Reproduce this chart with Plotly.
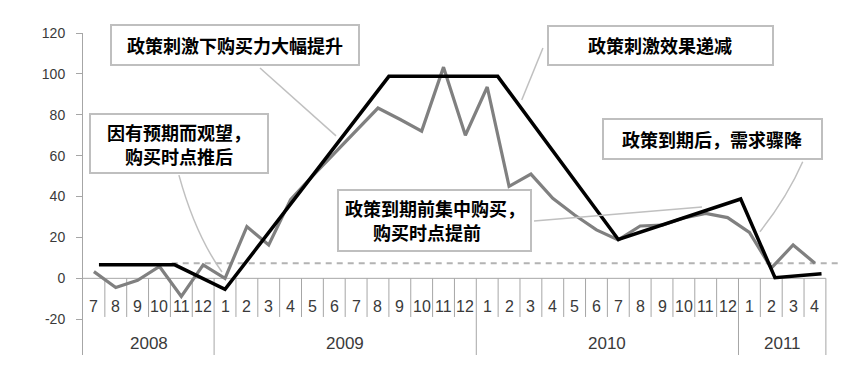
import plotly.graph_objects as go

# ---------------- data ----------------
month_labels = ["7", "8", "9", "10", "11", "12",
                "1", "2", "3", "4", "5", "6", "7", "8", "9", "10", "11", "12",
                "1", "2", "3", "4", "5", "6", "7", "8", "9", "10", "11", "12",
                "1", "2", "3", "4"]
year_labels = ["2008", "2009", "2010", "2011"]
months_per_year = [6, 12, 12, 4]

# grey series (monthly values)
grey_values = [3.3, -4.5, -1.0, 5.8, -8.9, 6.6,
               0.0, 25.3, 16.3, 38.5, 50.0, 61.0, 72.5, 83.3, 77.8, 72.0, 103.3, 70.0,
               93.6, 45.0, 51.0, 39.1, 31.0, 23.7, 18.8, 25.6, 26.0, 29.5, 31.8, 29.7,
               22.5, 5.0, 16.3, 7.4]

# black schematic trend line (position in month slots, value)
trend_pos = [0.73, 4.2, 6.5, 14.0, 18.98, 24.5, 30.1, 31.67, 33.8]
trend_val = [6.6, 6.6, -5.4, 98.8, 98.8, 19.0, 38.8, 0.3, 2.2]

# dashed reference level
ref_level = 7.4
ref_start = 4.06
ref_end = 34.55

y_ticks = [-20, 0, 20, 40, 60, 80, 100, 120]
y_tick_labels = ["-20", "0", "20", "40", "60", "80", "100", "120"]

notes = [["政策刺激下购买力大幅提升"],
         ["政策刺激效果递减"],
         ["因有预期而观望，", "购买时点推后"],
         ["政策到期前集中购买，", "购买时点提前"],
         ["政策到期后，需求骤降"]]

# ---------------- figure ----------------
n = len(month_labels)
centers = [i + 0.5 for i in range(n)]
AX = "#a6a6a6"

fig = go.Figure()
fig.add_trace(go.Scatter(x=centers, y=grey_values, mode="lines",
                         line=dict(color="#808080", width=3.2), hoverinfo="skip"))
fig.add_trace(go.Scatter(x=trend_pos, y=trend_val, mode="lines",
                         line=dict(color="#000000", width=3.5), hoverinfo="skip"))

shapes = []
# horizontal category axis at 0
shapes.append(dict(type="line", xref="x", yref="y", x0=0, x1=n, y0=0, y1=0,
                   line=dict(color=AX, width=1), layer="below"))
# separators
bounds = []
acc = 0
for c in months_per_year:
    acc += c
    bounds.append(acc)
for i in range(1, n + 1):
    y1 = -37.5 if i in bounds else -18.9
    shapes.append(dict(type="line", xref="x", yref="y", x0=i, x1=i, y0=0, y1=y1,
                       line=dict(color=AX, width=1), layer="below"))
# dashed reference line
shapes.append(dict(type="line", xref="x", yref="y", x0=ref_start, x1=ref_end,
                   y0=ref_level, y1=ref_level,
                   line=dict(color="#b3b3b3", width=2, dash="6px,5px"), layer="below"))
# leader lines
LC = "#c0c0c0"
shapes.append(dict(type="line", xref="x", yref="y", x0=8.10, y0=102.9, x1=11.58, y1=69.7,
                   line=dict(color=LC, width=1.5)))
shapes.append(dict(type="line", xref="x", yref="y", x0=21.05, y0=112.7, x1=20.08, y1=87.2,
                   line=dict(color=LC, width=1.5)))
shapes.append(dict(type="path", xref="x", yref="y",
                   path="M 4.39,50.5 Q 5.14,21.4 6.36,3.1",
                   line=dict(color=LC, width=1.5)))
shapes.append(dict(type="line", xref="x", yref="y", x0=20.64, y0=28.0, x1=28.33, y1=34.9,
                   line=dict(color=LC, width=1.5)))
shapes.append(dict(type="path", xref="x", yref="y",
                   path="M 32.94,57.0 Q 32.21,39.3 30.98,22.8",
                   line=dict(color=LC, width=1.5)))

annotations = []
tick_font = dict(family="Liberation Sans, Arial, sans-serif", size=16, color="#3a3a3a")
for c, lab in zip(centers, month_labels):
    annotations.append(dict(x=c, y=-13.6, xref="x", yref="y", text=lab, showarrow=False,
                            font=tick_font))
start = 0
for lab, c in zip(year_labels, months_per_year):
    annotations.append(dict(x=start + c / 2, y=-31.7, xref="x", yref="y", text=lab,
                            showarrow=False,
                            font=dict(family="Liberation Sans, Arial, sans-serif", size=17,
                                      color="#3a3a3a")))
    start += c

# note boxes: (center x, center y, width px, height px, second-line x shift px)
box_geo = [(6.96, 114.1, 250, 42, 0),
           (26.43, 113.9, 227, 41, 0),
           (4.39, 65.9, 180, 61, 0),
           (16.09, 28.3, 195, 63, -8),
           (28.81, 68.2, 221, 42, 0)]
note_font = dict(family="Noto Sans CJK SC", size=18, color="#000000", weight="bold")
for lines, (bx, by, w, h, dx2) in zip(notes, box_geo):
    # the box itself
    annotations.append(dict(x=bx, y=by, xref="x", yref="y", text=" ", showarrow=False,
                            width=w - 4, height=h - 4, borderpad=0, borderwidth=2,
                            bordercolor="#bfbfbf", bgcolor="white",
                            font=dict(size=4)))
    if len(lines) == 1:
        annotations.append(dict(x=bx, y=by, xref="x", yref="y", text=lines[0],
                                showarrow=False, font=note_font))
    else:
        annotations.append(dict(x=bx, y=by, xref="x", yref="y", text=lines[0],
                                showarrow=False, yshift=12, font=note_font))
        annotations.append(dict(x=bx, y=by, xref="x", yref="y", text=lines[1],
                                showarrow=False, yshift=-12, xshift=dx2, font=note_font))

# page body has an 8px margin: shrink figure so it fits the 866x365 window
fig.update_layout(
    width=858, height=357,
    margin=dict(l=75, r=27, t=25, b=10),
    paper_bgcolor="white", plot_bgcolor="white",
    showlegend=False,
    xaxis=dict(range=[0, 34.6], visible=False, fixedrange=True),
    yaxis=dict(range=[-37.5, 120], tickvals=y_ticks, ticktext=y_tick_labels,
               showgrid=False, zeroline=False,
               showline=True, linecolor=AX, linewidth=1, ticks="outside", ticklen=6,
               tickcolor=AX, ticklabelstandoff=8,
               tickfont=dict(family="Liberation Sans, Arial, sans-serif", size=14,
                             color="#3a3a3a")),
    shapes=shapes,
    annotations=annotations,
)

fig.write_html("out.html")
